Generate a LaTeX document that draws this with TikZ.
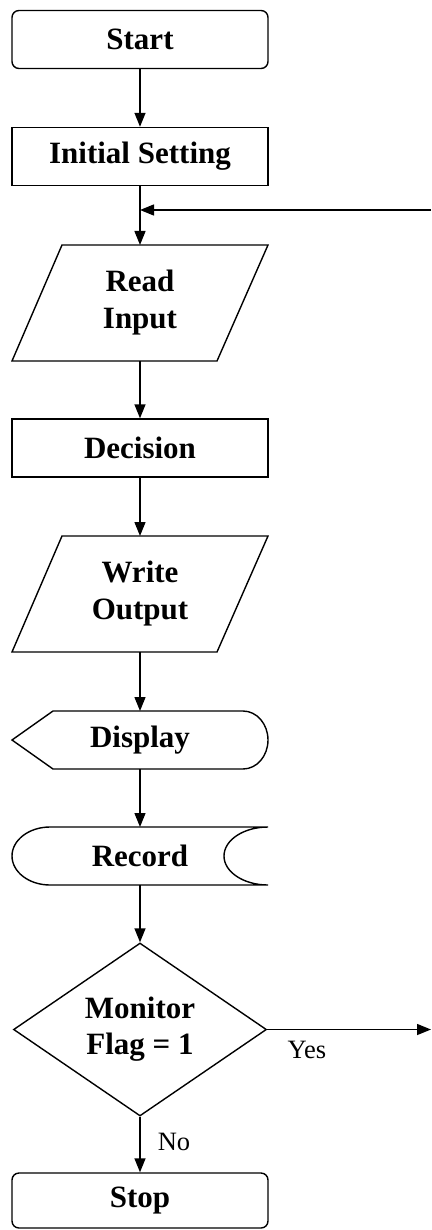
\documentclass[tikz,border=0pt]{standalone}
\usepackage{fontspec}
\setmainfont{Liberation Serif}
\usepackage{tikz}
\usetikzlibrary{arrows.meta, shapes}

\begin{document}
\begin{tikzpicture}[x=1pt, y=-1pt, ->, >={Triangle[length=14pt, width=11pt]}, line width=1.4pt,
		block/.style={draw, rectangle, minimum width=256pt, minimum height=58pt, inner sep=0pt, align=center, font=\bfseries\fontsize{31}{37}\selectfont},
		term/.style={block, rounded corners=7pt},
		bare/.style={block, draw=none, outer sep=0pt},
		cond/.style={draw, diamond, aspect=1.46, minimum width=253pt, minimum height=173pt, inner sep=0pt, align=center, font=\bfseries\fontsize{31}{36}\selectfont},
		lbl/.style={font=\fontsize{26.5}{30}\selectfont, inner sep=0pt}]
		\useasboundingbox (0, 0) rectangle (431, 1230);

		\node[term] (start) at (140, 39.5) {Start};
		\node[block] (init) at (140, 156.5) {Initial Setting};
		\node[bare, minimum height=116pt] (read) at (140, 303) {Read\\Input};
		\node[block] (dec) at (140, 448) {Decision};
		\node[bare, minimum height=116pt] (write) at (140, 594) {Write\\Output};
		\node[bare] (disp) at (140, 740) {Display};
		\node[bare] (rec) at (140, 856) {Record};
		\node[cond] (flag) at (140, 1029.5) {Monitor\\Flag = 1};
		\node[term, minimum height=55pt] (stop) at (140, 1200.5) {Stop};

		\coordinate (back) at (431, 210);
		\coordinate (merge) at (140, 210);
		\coordinate (out) at (431, 1029.5);

		% outlines of the non-box symbols
		\draw[-] ([xshift=50pt]read.north west) -- (read.north east) -- ([xshift=-51pt]read.south east) -- (read.south west) -- cycle;
		\draw[-] ([xshift=50pt]write.north west) -- (write.north east) -- ([xshift=-51pt]write.south east) -- (write.south west) -- cycle;
		\draw[-] (disp.west) -- ([xshift=41pt]disp.north west) -- ([xshift=-25pt]disp.north east)
			arc[start angle=90, end angle=-90, x radius=25pt, y radius=29pt] -- ([xshift=41pt]disp.south west) -- cycle;
		\draw[-] ([xshift=38pt]rec.north west) -- (rec.north east)
			arc[start angle=90, end angle=270, x radius=44pt, y radius=29pt] -- ([xshift=38pt]rec.south west)
			arc[start angle=270, end angle=90, x radius=38pt, y radius=29pt] -- cycle;

		\node[lbl] (yes) at (307, 1050) {Yes};
		\node[lbl] (no) at (174, 1142) {No};

		\path (start) edge (init)
			(init) edge (read)
			(back) edge (merge) % loop back
			(read) edge (dec)
			(dec) edge (write)
			(write) edge (disp)
			(disp) edge (rec)
			(rec) edge (flag)
			(flag) edge (out)
			(flag) edge (stop);
	\end{tikzpicture}
\end{document}
